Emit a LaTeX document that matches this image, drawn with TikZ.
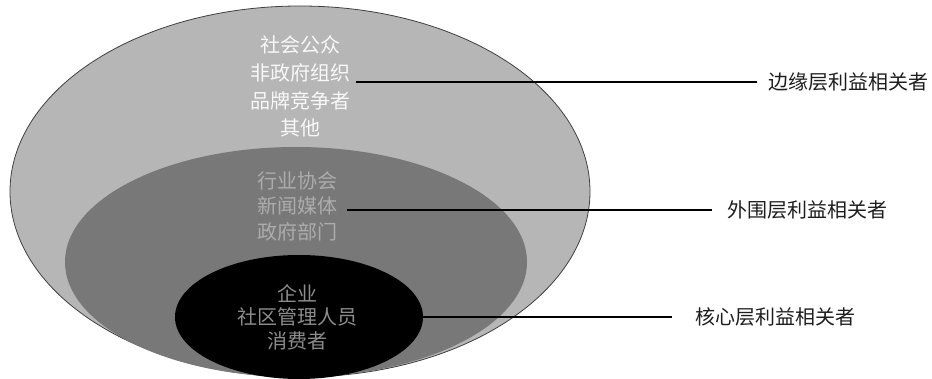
\documentclass[tikz,border=0pt]{standalone}
\usepackage{fontspec}
\newfontfamily\cjk{Noto Sans CJK SC}
\definecolor{outerfill}{RGB}{182,182,182}
\definecolor{midfill}{RGB}{120,120,120}
\definecolor{outertext}{RGB}{248,248,248}
\definecolor{midtext}{RGB}{172,172,172}
\definecolor{innertext}{RGB}{140,140,140}
\definecolor{labeltext}{RGB}{30,30,30}
\tikzset{
  layertext/.style={align=center, inner sep=0pt, font=\cjk\fontsize{20}{28}\selectfont},
  sidelabel/.style={anchor=west, inner sep=0pt, text=labeltext, font=\cjk\fontsize{20}{24}\selectfont},
  leader/.style={draw=black, line width=1.2pt}
}
\begin{document}
\begin{tikzpicture}[x=1pt,y=-1pt]
\useasboundingbox (0,0) rectangle (932,379);
% ellipses
\path[fill=outerfill, draw=black!75, line width=0.8pt] (300,191.5) ellipse [x radius=290, y radius=185.5];
\path[fill=midfill] (296,262) ellipse [x radius=231, y radius=115];
\path[fill=black] (299,317) ellipse [x radius=124, y radius=62];
% texts
\node[layertext, text=outertext, font=\cjk\fontsize{20}{27.7}\selectfont] (outer) at (300,86.5) {社会公众\\非政府组织\\品牌竞争者\\其他};
\node[layertext, text=midtext, font=\cjk\fontsize{20}{25.5}\selectfont] (mid) at (297,206) {行业协会\\新闻媒体\\政府部门};
\node[layertext, text=innertext, font=\cjk\fontsize{20}{23.5}\selectfont] (inner) at (297,317) {企业\\社区管理人员\\消费者};
% side labels
\node[sidelabel] (lab1) at (768,82) {边缘层利益相关者};
\node[sidelabel] (lab2) at (727,210) {外围层利益相关者};
\node[sidelabel] (lab3) at (695,317) {核心层利益相关者};
% leader start points
\coordinate (s1) at (356,82);
\coordinate (s2) at (347,210);
\coordinate (s3) at (423,317);
\draw[leader] (s1) -- ([xshift=-11pt]lab1.west);
\draw[leader] (s2) -- ([xshift=-15pt]lab2.west);
\draw[leader] (s3) -- ([xshift=-23pt]lab3.west);
\end{tikzpicture}
\end{document}
